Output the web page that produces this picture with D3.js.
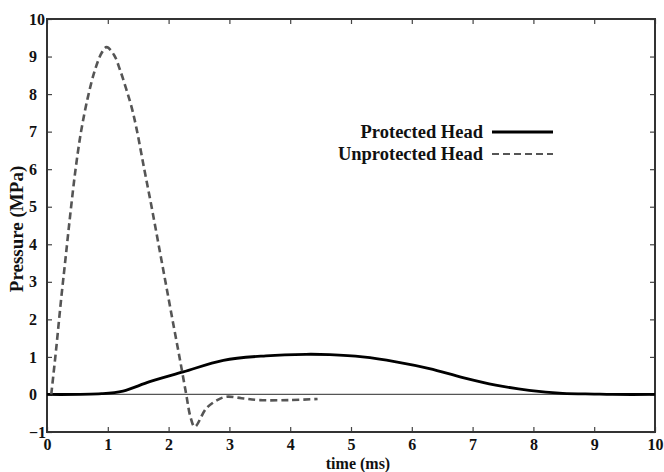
<!DOCTYPE html>
<meta charset="utf-8">
<script src="https://d3js.org/d3.v7.min.js"></script>
<style>
  body { margin: 0; background: #fff; }
  text { font-family: "Liberation Serif", "Times New Roman", serif; font-weight: bold; fill: #111; }
</style>
<div id="chart"></div>
<script>
// data
const protectedTime     = [0, 0.9, 1.25, 1.69, 2.24, 2.9, 3.6, 4.26, 4.65, 5.19, 5.74, 6.29, 6.84, 7.38, 7.93, 8.48, 9.0, 9.3, 10];
const protectedPressure = [0, 0.02, 0.09, 0.34, 0.6, 0.91, 1.03, 1.07, 1.06, 1.0, 0.87, 0.69, 0.45, 0.25, 0.11, 0.03, 0.01, 0, 0];

const unprotectedTime     = [0.07, 0.15, 0.23, 0.31, 0.39, 0.47, 0.56, 0.67, 0.79, 0.9, 0.98, 1.1, 1.2, 1.3, 1.39, 1.47, 1.6, 1.72, 1.84, 1.96, 2.08, 2.19, 2.29, 2.36, 2.43, 2.62, 2.8, 2.95, 3.2, 3.5, 4.0, 4.45];
const unprotectedPressure = [0, 1.2, 2.5, 3.7, 4.9, 6.0, 7.0, 7.9, 8.65, 9.1, 9.25, 9.05, 8.65, 8.15, 7.66, 7.1, 6.0, 5.0, 3.95, 2.9, 1.85, 0.9, 0, -0.6, -0.86, -0.37, -0.15, -0.06, -0.1, -0.15, -0.15, -0.12];

const xTicks = [0, 1, 2, 3, 4, 5, 6, 7, 8, 9, 10];
const yTicks = [-1, 0, 1, 2, 3, 4, 5, 6, 7, 8, 9, 10];
const seriesNames = ["Protected Head", "Unprotected Head"];

// layout
const W = 664, H = 472;
const margin = {top: 19, right: 9, bottom: 40, left: 47};
const width = W - margin.left - margin.right,
      height = H - margin.top - margin.bottom;

const svg = d3.select("#chart").append("svg")
    .attr("width", W).attr("height", H);
const g = svg.append("g")
    .attr("transform", `translate(${margin.left},${margin.top})`);

const x = d3.scaleLinear().domain([0, 10]).range([0, width]);
const y = d3.scaleLinear().domain([-1, 10]).range([height, 0]);

// inward ticks on all four sides
const tickStyle = sel => {
  sel.attr("font-family", null);
  sel.select(".domain").remove();
  sel.selectAll(".tick line").attr("stroke", "#444").attr("stroke-width", 1.2);
};
g.append("g").attr("transform", `translate(0,${height})`)
    .call(d3.axisBottom(x).tickValues(xTicks).tickSize(-5).tickPadding(7))
    .call(tickStyle)
    .selectAll("text").attr("font-size", 16);
g.append("g")
    .call(d3.axisTop(x).tickValues(xTicks).tickSize(-5).tickFormat(""))
    .call(tickStyle);
g.append("g")
    .call(d3.axisLeft(y).tickValues(yTicks).tickSize(-5).tickPadding(0))
    .call(tickStyle)
    .selectAll("text")
      .attr("font-size", 16)
      .attr("text-anchor", "start")
      .attr("x", -18);
g.append("g").attr("transform", `translate(${width},0)`)
    .call(d3.axisRight(y).tickValues(yTicks).tickSize(-5).tickFormat(""))
    .call(tickStyle);

// zero line
g.append("line")
    .attr("x1", 0).attr("x2", width)
    .attr("y1", y(0)).attr("y2", y(0))
    .attr("stroke", "#555").attr("stroke-width", 1.2);

// frame
g.append("rect")
    .attr("width", width).attr("height", height)
    .attr("fill", "none").attr("stroke", "#333").attr("stroke-width", 2);

const line = d3.line()
    .x(d => x(d[0])).y(d => y(d[1]))
    .curve(d3.curveCatmullRom.alpha(0.5));

g.append("path")
    .datum(d3.zip(protectedTime, protectedPressure))
    .attr("d", line)
    .attr("fill", "none").attr("stroke", "#000").attr("stroke-width", 2.8);

g.append("path")
    .datum(d3.zip(unprotectedTime, unprotectedPressure))
    .attr("d", line)
    .attr("fill", "none").attr("stroke", "#555").attr("stroke-width", 2.6)
    .attr("stroke-dasharray", "7,4");

// legend
const legend = svg.append("g");
seriesNames.forEach((name, i) => {
  const ly = 132 + i * 22;
  legend.append("text")
      .attr("x", 483).attr("y", ly).attr("dy", "0.35em")
      .attr("text-anchor", "end").attr("font-size", 18.5)
      .text(name);
  legend.append("line")
      .attr("x1", 492).attr("x2", 553).attr("y1", ly).attr("y2", ly)
      .attr("stroke", i === 0 ? "#000" : "#555")
      .attr("stroke-width", i === 0 ? 3 : 2)
      .attr("stroke-dasharray", i === 0 ? null : "7,4");
});

// axis titles
svg.append("text")
    .attr("x", 358).attr("y", 468.5)
    .attr("text-anchor", "middle").attr("font-size", 16)
    .text("time (ms)");
svg.append("text")
    .attr("transform", "translate(23,229) rotate(-90)")
    .attr("text-anchor", "middle").attr("font-size", 19)
    .text("Pressure (MPa)");
</script>
